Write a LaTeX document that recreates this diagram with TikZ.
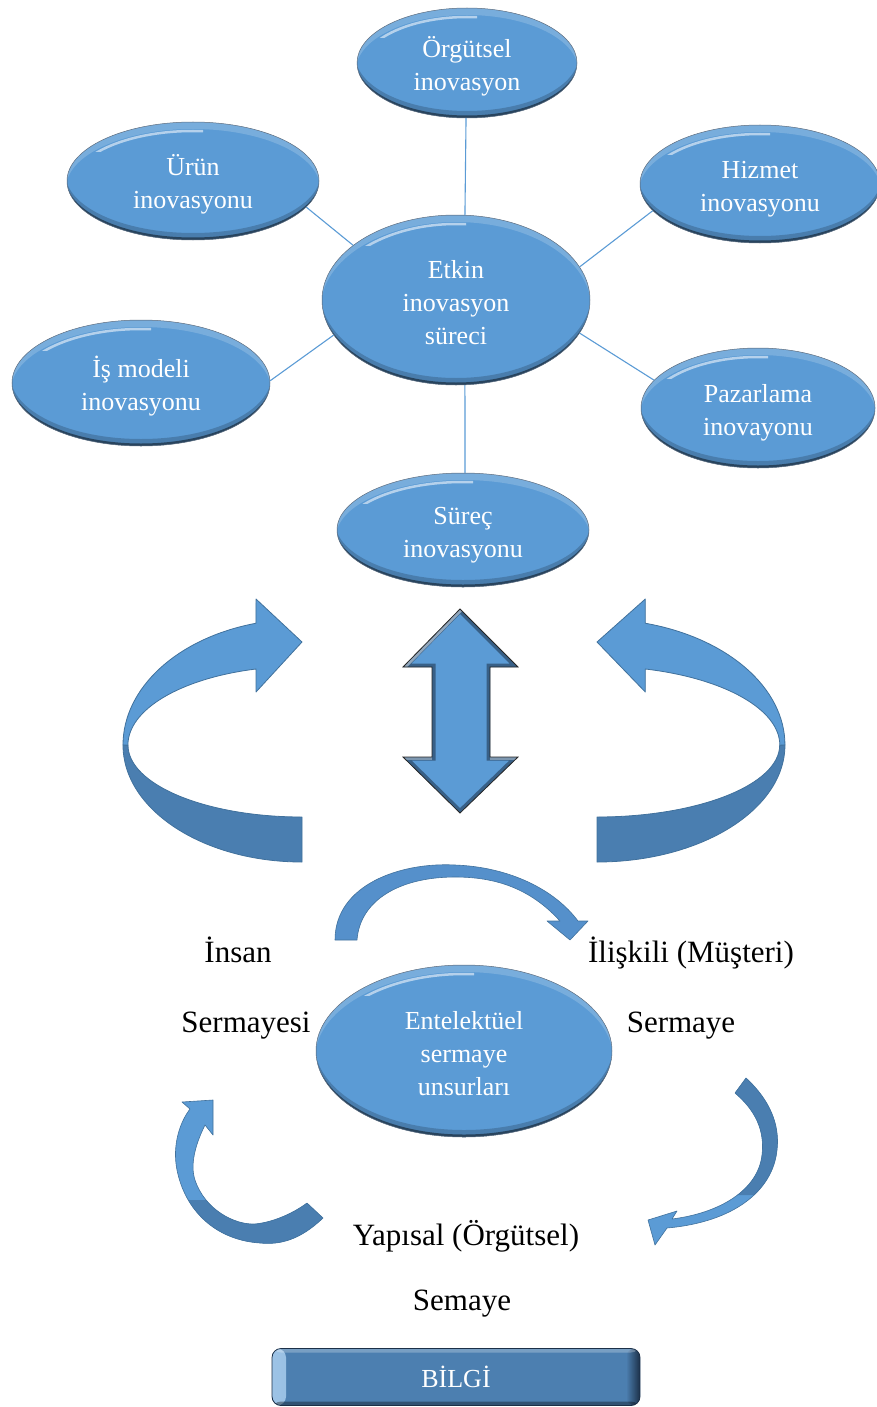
\documentclass[tikz,border=0pt]{standalone}
\usepackage{fontspec}
\setmainfont{Liberation Serif}
\usetikzlibrary{shapes.geometric,calc}

\definecolor{obl}{HTML}{5B9BD5}
\definecolor{odark}{HTML}{4A7EB0}
\definecolor{outl}{HTML}{41719C}
\definecolor{navy}{HTML}{1C3048}
\definecolor{boxfill}{HTML}{4C7FB0}
\definecolor{smallarr}{HTML}{5590CB}

\newcommand\bubblefont{\fontsize{26}{33}\selectfont}
\newcommand\labelfont{\fontsize{31}{37}\selectfont}
% centred multi-line bubble text, first row padded so the block sits a little low
\newcommand\bub[1]{\begin{tabular}{@{}c@{}}\rule{0pt}{32pt}#1\end{tabular}}

% bevel: dark rim along the bottom, light rim and gloss along the top
\newcommand\bevelellipse{%
  \fill[navy, fill opacity=.28, even odd rule]
    let \p1=(path picture bounding box.south west), \p2=(path picture bounding box.north east) in
    (\p1) rectangle (\p2)
    ({(\x1+\x2)/2},{(\y1+\y2)/2+7pt}) ellipse [x radius={(\x2-\x1)/2+1.5pt}, y radius={(\y2-\y1)/2}];
  \fill[black, fill opacity=.45, even odd rule]
    let \p1=(path picture bounding box.south west), \p2=(path picture bounding box.north east) in
    (\p1) rectangle (\p2)
    ({(\x1+\x2)/2},{(\y1+\y2)/2+2.5pt}) ellipse [x radius={(\x2-\x1)/2+1pt}, y radius={(\y2-\y1)/2}];
  \fill[white, fill opacity=.18, even odd rule]
    let \p1=(path picture bounding box.south west), \p2=(path picture bounding box.north east) in
    (\p1) rectangle (\p2)
    ({(\x1+\x2)/2},{(\y1+\y2)/2-7pt}) ellipse [x radius={(\x2-\x1)/2+1pt}, y radius={(\y2-\y1)/2}];
  \begin{scope}
    \clip let \p1=(path picture bounding box.south west), \p2=(path picture bounding box.north east) in
      (\x1,{\y2-30pt}) rectangle ({(\x1+\x2)/2+10pt},\y2);
    \draw[white, opacity=.55, line width=2.5pt]
      let \p1=(path picture bounding box.south west), \p2=(path picture bounding box.north east) in
      ({(\x1+\x2)/2},{(\y1+\y2)/2-6pt}) ellipse [x radius={(\x2-\x1)/2-4pt}, y radius={(\y2-\y1)/2-3pt}];
  \end{scope}
}

\newcommand\bevelbox{%
  \shade[left color=white!40!obl, right color=boxfill]
    ($(path picture bounding box.south west)$) rectangle ($(path picture bounding box.north west)+(14pt,0)$);
  \shade[left color=boxfill, right color=navy]
    ($(path picture bounding box.south east)+(-14pt,0)$) rectangle ($(path picture bounding box.north east)$);
  \fill[white, fill opacity=.25]
    ($(path picture bounding box.north west)+(0,-4pt)$) rectangle (path picture bounding box.north east);
  \fill[black, fill opacity=.35]
    (path picture bounding box.south west) rectangle ($(path picture bounding box.south east)+(0,4pt)$);
}

\tikzset{
  bubble/.style={ellipse, fill=obl, draw=navy!70, line width=.5pt, text=white,
    inner sep=0pt, font=\bubblefont, path picture={\bevelellipse}},
  conn/.style={draw=obl, line width=1.1pt},
  lbl/.style={font=\labelfont, text=black, inner sep=0pt, anchor=base},
  bandlight/.style={fill=obl, draw=outl, line width=.8pt, line join=round},
  banddark/.style={fill=odark, draw=outl, line width=.8pt, line join=round},
  infobox/.style={rounded corners=9pt, fill=boxfill, draw=navy, line width=.8pt,
    text=white, font=\bubblefont, inner sep=0pt, path picture={\bevelbox}}
}

\begin{document}
\begin{tikzpicture}[x=1pt,y=1pt]
\useasboundingbox (0,0) rectangle (876,-1407);

% ---------- innovation types ----------
\node[bubble, minimum width=220pt, minimum height=110pt] (org) at (467,-63) {\bub{Örgütsel\\inovasyon}};
\node[bubble, minimum width=252pt, minimum height=118pt] (urun) at (193,-181) {\bub{Ürün\\inovasyonu}};
\node[bubble, minimum width=240pt, minimum height=118pt] (hiz) at (760,-184) {\bub{Hizmet\\inovasyonu}};
\node[bubble, minimum width=268pt, minimum height=170pt] (etk) at (456,-300) {\bub{Etkin\\inovasyon\\süreci}};
\node[bubble, minimum width=258pt, minimum height=126pt] (isml) at (141,-383) {\bub{İş modeli\\inovasyonu}};
\node[bubble, minimum width=234pt, minimum height=120pt] (paz) at (758,-408) {\bub{Pazarlama\\inovayonu}};
\node[bubble, minimum width=252pt, minimum height=114pt] (sur) at (463,-530) {\bub{Süreç\\inovasyonu}};

\draw[conn] (org.-91) -- (etk.84);
\draw[conn] (urun.-13) -- (etk.152);
\draw[conn] (hiz.194) -- (etk.15);
\draw[conn] (isml.1) -- (etk.196);
\draw[conn] (paz.165) -- (etk.-15);
\draw[conn] (sur.88) -- (etk.-84);

% ---------- left turning ribbon arrow ----------
\begin{scope}
  \path[banddark] (128,-745) arc[start angle=180, end angle=270, x radius=174, y radius=72]
    -- (302,-862) arc[start angle=270, end angle=180, x radius=179, y radius=117] -- cycle;
  \path[bandlight] (123,-745) arc[start angle=180, end angle=104.9, x radius=179, y radius=126]
    -- (256,-599) -- (302,-642) -- (256,-692) -- (256,-669)
    arc[start angle=105.3, end angle=180, x radius=174, y radius=79] -- cycle;
\end{scope}

% ---------- right turning ribbon arrow (mirrored) ----------
\begin{scope}[shift={(597,0)}, xscale=-1.05, shift={(-302,0)}]
  \path[banddark] (128,-745) arc[start angle=180, end angle=270, x radius=174, y radius=72]
    -- (302,-862) arc[start angle=270, end angle=180, x radius=179, y radius=117] -- cycle;
  \path[bandlight] (123,-745) arc[start angle=180, end angle=104.9, x radius=179, y radius=126]
    -- (256,-599) -- (302,-642) -- (256,-692) -- (256,-669)
    arc[start angle=105.3, end angle=180, x radius=174, y radius=79] -- cycle;
\end{scope}

% ---------- vertical double arrow ----------
\coordinate (d1) at (460,-609);
\coordinate (d2) at (518,-667);
\coordinate (d3) at (490,-667);
\coordinate (d4) at (490,-757);
\coordinate (d5) at (518,-757);
\coordinate (d6) at (460,-813);
\coordinate (d7) at (403,-757);
\coordinate (d8) at (432,-757);
\coordinate (d9) at (432,-667);
\coordinate (d10) at (403,-667);
\fill[obl] (d1) -- (d2) -- (d3) -- (d4) -- (d5) -- (d6) -- (d7) -- (d8) -- (d9) -- (d10) -- cycle;
\begin{scope}
  \clip (d1) -- (d2) -- (d3) -- (d4) -- (d5) -- (d6) -- (d7) -- (d8) -- (d9) -- (d10) -- cycle;
  \draw[navy, opacity=.55, line width=7pt, line join=miter]
    (d1) -- (d2) -- (d3) -- (d4) -- (d5) -- (d6) -- (d7) -- (d8) -- (d9) -- (d10) -- cycle;
  \draw[white, opacity=.45, line width=6pt] (d10) -- (d1);
  \draw[white, opacity=.35, line width=5pt] (d7) -- (d8);
  \draw[white, opacity=.35, line width=5pt] (d4) -- (d5);
\end{scope}
\draw[black!85, line width=.8pt, line join=miter]
  (d1) -- (d2) -- (d3) -- (d4) -- (d5) -- (d6) -- (d7) -- (d8) -- (d9) -- (d10) -- cycle;

% ---------- intellectual capital cycle ----------
\node[bubble, minimum width=296pt, minimum height=172pt] (ent) at (464,-1051) {\bub{Entelektüel\\sermaye\\unsurları}};

% upper arc arrow
\path[fill=smallarr, draw=outl, line width=.6pt, line join=round]
  (335,-940) .. controls (335,-885) and (400,-862) .. (455,-865)
  .. controls (510,-867) and (555,-890) .. (578,-921)
  -- (588,-921) -- (570,-940) -- (547,-921) -- (560,-921)
  .. controls (530,-888) and (495,-877) .. (455,-877)
  .. controls (400,-877) and (360,-900) .. (357,-940) -- cycle;

% lower-left arc arrow
\path[fill=obl] (323,-1218) .. controls (300,-1240) and (280,-1245) .. (260,-1243)
  .. controls (215,-1240) and (185,-1210) .. (177,-1170)
  .. controls (172,-1145) and (180,-1122) .. (190,-1109)
  -- (182,-1102) -- (213,-1100) -- (213,-1135) -- (205,-1125)
  .. controls (195,-1145) and (190,-1165) .. (195,-1180)
  .. controls (205,-1210) and (235,-1225) .. (255,-1224)
  .. controls (275,-1222) and (295,-1212) .. (307,-1203) -- cycle;
\begin{scope}
  \clip (323,-1218) .. controls (300,-1240) and (280,-1245) .. (260,-1243)
    .. controls (215,-1240) and (185,-1210) .. (177,-1170)
    .. controls (172,-1145) and (180,-1122) .. (190,-1109)
    -- (182,-1102) -- (213,-1100) -- (213,-1135) -- (205,-1125)
    .. controls (195,-1145) and (190,-1165) .. (195,-1180)
    .. controls (205,-1210) and (235,-1225) .. (255,-1224)
    .. controls (275,-1222) and (295,-1212) .. (307,-1203) -- cycle;
  \fill[odark] (150,-1200) -- (205,-1200) -- (340,-1190) -- (340,-1260) -- (150,-1260) -- cycle;
\end{scope}
\path[draw=outl, line width=.6pt, line join=round]
  (323,-1218) .. controls (300,-1240) and (280,-1245) .. (260,-1243)
  .. controls (215,-1240) and (185,-1210) .. (177,-1170)
  .. controls (172,-1145) and (180,-1122) .. (190,-1109)
  -- (182,-1102) -- (213,-1100) -- (213,-1135) -- (205,-1125)
  .. controls (195,-1145) and (190,-1165) .. (195,-1180)
  .. controls (205,-1210) and (235,-1225) .. (255,-1224)
  .. controls (275,-1222) and (295,-1212) .. (307,-1203) -- cycle;

% lower-right arc arrow
\path[fill=obl] (746,-1078) .. controls (770,-1100) and (780,-1125) .. (777,-1150)
  .. controls (773,-1190) and (735,-1222) .. (667,-1228)
  -- (655,-1245) -- (648,-1220) -- (677,-1211) -- (672,-1219)
  .. controls (720,-1213) and (758,-1190) .. (762,-1155)
  .. controls (765,-1130) and (755,-1110) .. (735,-1093) -- cycle;
\begin{scope}
  \clip (746,-1078) .. controls (770,-1100) and (780,-1125) .. (777,-1150)
    .. controls (773,-1190) and (735,-1222) .. (667,-1228)
    -- (655,-1245) -- (648,-1220) -- (677,-1211) -- (672,-1219)
    .. controls (720,-1213) and (758,-1190) .. (762,-1155)
    .. controls (765,-1130) and (755,-1110) .. (735,-1093) -- cycle;
  \fill[odark] (690,-1060) -- (800,-1060) -- (800,-1185) -- (760,-1195) -- (690,-1195) -- cycle;
\end{scope}
\path[draw=outl, line width=.6pt, line join=round]
  (746,-1078) .. controls (770,-1100) and (780,-1125) .. (777,-1150)
  .. controls (773,-1190) and (735,-1222) .. (667,-1228)
  -- (655,-1245) -- (648,-1220) -- (677,-1211) -- (672,-1219)
  .. controls (720,-1213) and (758,-1190) .. (762,-1155)
  .. controls (765,-1130) and (755,-1110) .. (735,-1093) -- cycle;

% capital labels
\node[lbl] (insan) at (238,-962) {İnsan};
\node[lbl] (insan2) at (246,-1032) {Sermayesi};
\node[lbl] (iliskili) at (691,-962) {İlişkili (Müşteri)};
\node[lbl] (iliskili2) at (681,-1032) {Sermaye};
\node[lbl] (yapisal) at (466,-1245) {Yapısal (Örgütsel)};
\node[lbl] (yapisal2) at (462,-1310) {Semaye};

% knowledge bar
\node[infobox, minimum width=368pt, minimum height=57pt] (bilgi) at (456,-1377) {BİLGİ};
\end{tikzpicture}
\end{document}
